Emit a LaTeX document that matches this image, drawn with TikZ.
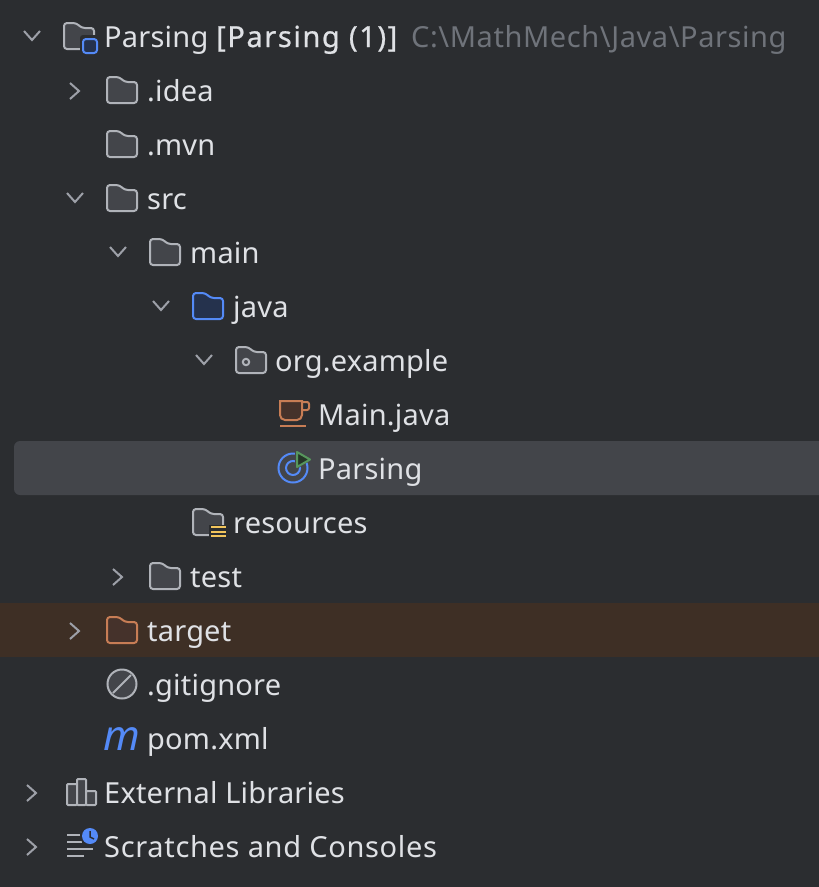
\documentclass[tikz,border=0pt]{standalone}
\usepackage{fontspec}
\setmainfont{Noto Sans}
\newfontfamily\strongfont[FakeBold=0.7,LetterSpace=5.5]{Noto Sans}
\usepackage{xcolor}
\usepackage{tikz}
\usetikzlibrary{positioning}

\definecolor{panelbg}{HTML}{2B2D30}
\definecolor{selrow}{HTML}{43454A}
\definecolor{ignrow}{HTML}{3E2F25}
\definecolor{rowtxt}{HTML}{DFE1E5}
\definecolor{pathtxt}{HTML}{6F737A}
\definecolor{iconline}{HTML}{B0B3B9}
\definecolor{iconfill}{HTML}{43454A}
\definecolor{chevline}{HTML}{9DA0A8}
\definecolor{blueline}{HTML}{548AF7}
\definecolor{bluefill}{HTML}{25324D}
\definecolor{orangeline}{HTML}{C77D55}
\definecolor{orangefill}{HTML}{45322B}
\definecolor{greenline}{HTML}{57965C}
\definecolor{greenfill}{HTML}{253627}
\definecolor{yellowline}{HTML}{F2C55C}

\tikzset{
    pics/folder/.style 2 args={code={
        \draw[draw=#1, fill=#2, line width=2pt, rounded corners=3pt]
            (-15,-13) -- (-3,-13) -- (3,-8) -- (15,-8) -- (15,13) -- (-15,13) -- cycle;
    }},
    pics/chevdown/.style={code={
        \draw[chevline, line width=2pt] (-8,-5) -- (0,4) -- (8,-5);
    }},
    pics/chevright/.style={code={
        \draw[chevline, line width=2pt] (-4,-8) -- (5,0) -- (-4,8);
    }}
}

\begin{document}
\begin{tikzpicture}[
    x=1pt, y=-1pt,
    rowlabel/.style={anchor=base west, inner sep=0pt, xshift=-1pt, text=rowtxt, font=\fontsize{29}{34}\selectfont\addfontfeature{LetterSpace=0.7}},
    widelabel/.style={rowlabel, font=\fontsize{29}{34}\selectfont\addfontfeature{LetterSpace=2.3}},
    pathlabel/.style={rowlabel, text=pathtxt, font=\fontsize{29}{34}\selectfont\addfontfeature{LetterSpace=2}},
    boldlabel/.style={rowlabel, font=\fontsize{29}{34}\selectfont\strongfont},
    stroke/.style={draw=iconline, line width=2pt}
]
\useasboundingbox (0,0) rectangle (819,887);

% Backgrounds
\fill[panelbg] (0,0) rectangle (819,887);
\fill[selrow, rounded corners=6pt] (14,441) rectangle (835,495);
\fill[ignrow] (0,603) rectangle (819,657);

% Chevrons
\pic at (32,36) {chevdown};
\pic at (74,91) {chevright};
\pic at (75,198) {chevdown};
\pic at (118,252) {chevdown};
\pic at (161,306) {chevdown};
\pic at (204,360) {chevdown};
\pic at (117,577) {chevright};
\pic at (74,631) {chevright};
\pic at (31,793) {chevright};
\pic at (31,847) {chevright};

% Folders
\pic at (79,36) {folder={iconline}{iconfill}};
\pic at (122,90) {folder={iconline}{iconfill}};
\pic at (122,144) {folder={iconline}{iconfill}};
\pic at (122,198) {folder={iconline}{iconfill}};
\pic at (165,252) {folder={iconline}{iconfill}};
\pic at (208,306) {folder={blueline}{bluefill}};
\pic at (251,360) {folder={iconline}{iconfill}};
\pic at (208,522) {folder={iconline}{iconfill}};
\pic at (165,576) {folder={iconline}{iconfill}};
\pic at (122,630) {folder={orangeline}{orangefill}};

% Module badge
\fill[panelbg, rounded corners=3pt] (80,35) rectangle (100,56);
\draw[draw=blueline, fill=bluefill, line width=2pt, rounded corners=3pt] (83,39) rectangle (97,53);

% Package dot
\draw[stroke] (246,362) circle [radius=3.2pt];

% Resources badge
\fill[panelbg] (209,525) rectangle (229,540);
\foreach \ypos in {527,531.5,536}
    \draw[yellowline, line width=2pt] (211,\ypos) -- (226,\ypos);

% Java file
\draw[draw=orangeline, fill=orangefill, line width=2pt, rounded corners=5pt]
    (280,401) [sharp corners] -- (302,401) [rounded corners=5pt] -- (302,420) -- (280,420) [sharp corners] -- cycle;
\draw[orangeline, line width=2pt, rounded corners=2pt] (302,402) -- (309,402) -- (309,410) -- (302,410);
\draw[orangeline, line width=2pt] (280,426) -- (306,426);

% Runnable class
\draw[blueline, line width=2pt] (293,468) circle [radius=14.5pt];
\draw[blueline, line width=2pt] (299.6,465.6) arc [start angle=20, end angle=-290, radius=7pt];
\fill[selrow] (295,450) -- (313,459) -- (295,470) -- cycle;
\draw[draw=greenline, fill=greenfill, line width=2pt, line join=round]
    (297,452) -- (310,459.5) -- (297,467) -- cycle;

% Ignore file
\draw[stroke, fill=iconfill] (122,684) circle [radius=14.5pt];
\draw[stroke] (113,693) -- (131,675);

% Maven file
\node[anchor=base, inner sep=0pt, text=blueline, font=\fontsize{42}{42}\selectfont\itshape] (pomicon) at (122,750) {m};

% Libraries
\draw[stroke, fill=iconfill, rounded corners=1pt] (67,784) rectangle (77,805);
\draw[stroke, fill=iconfill, rounded corners=1pt] (77,779) rectangle (86,805);
\draw[stroke, fill=iconfill, rounded corners=1pt] (86,791) rectangle (96,805);

% Scratches
\draw[stroke] (67,835) -- (80,835);
\draw[stroke] (67,842) -- (82,842);
\draw[stroke] (67,849) -- (93,849);
\draw[stroke] (67,856) -- (84,856);
\fill[panelbg] (90,836) circle [radius=10pt];
\fill[blueline] (90,836) circle [radius=8pt];
\draw[panelbg, line width=1.5pt] (90,831) -- (90,837) -- (94,839);

% Labels
\node[rowlabel] (rootname) at (105,47) {Parsing};
\node[boldlabel] (rootmodule) at (217,47) {[Parsing (1)]};
\node[pathlabel] (rootpath) at (412,47) {C:\textbackslash MathMech\textbackslash Java\textbackslash Parsing};
\node[rowlabel] (idea) at (148,101) {.idea};
\node[rowlabel] (mvn) at (148,155) {.mvn};
\node[rowlabel] (src) at (148,209) {src};
\node[rowlabel] (main) at (191,263) {main};
\node[rowlabel] (java) at (234,317) {java};
\node[rowlabel] (orgexample) at (276,371) {org.example};
\node[rowlabel] (mainjava) at (319,425) {Main.java};
\node[rowlabel] (parsing) at (319,479) {Parsing};
\node[rowlabel] (resources) at (234,533) {resources};
\node[rowlabel] (test) at (191,587) {test};
\node[rowlabel] (target) at (148,641) {target};
\node[rowlabel] (gitignore) at (148,695) {.gitignore};
\node[rowlabel] (pomxml) at (148,749) {pom.xml};
\node[rowlabel] (libraries) at (105,803) {External Libraries};
\node[widelabel] (scratches) at (105,857) {Scratches and Consoles};

\end{tikzpicture}
\end{document}
